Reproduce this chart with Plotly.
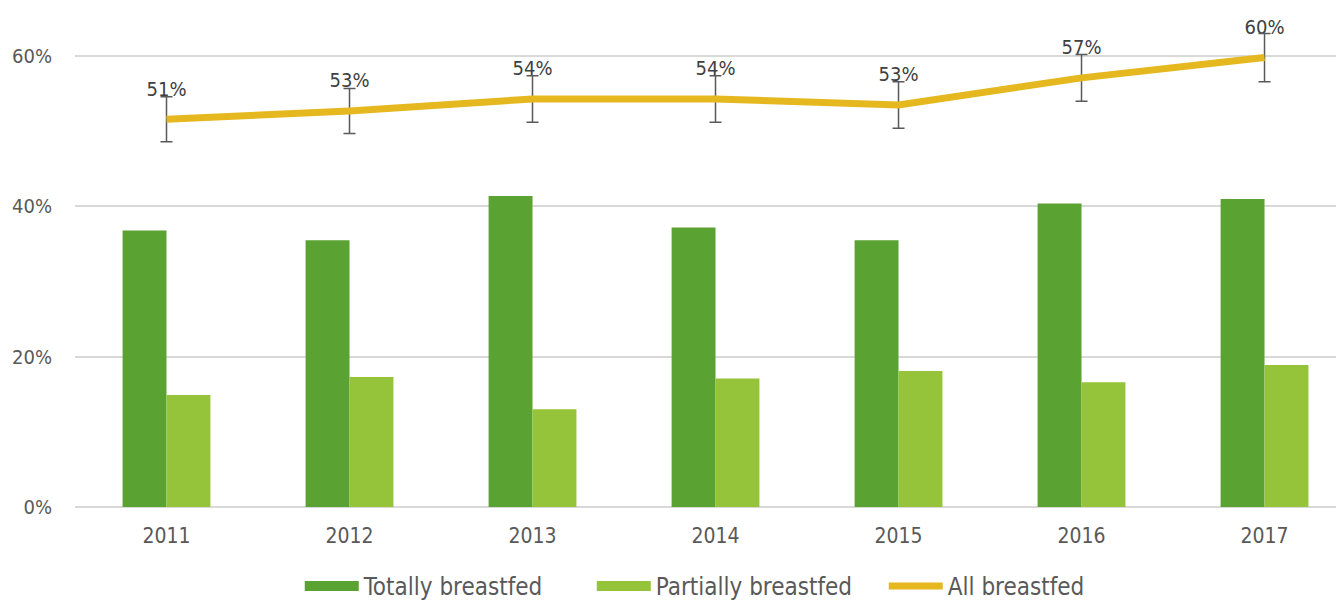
import plotly.graph_objects as go

years = ["2011", "2012", "2013", "2014", "2015", "2016", "2017"]
totally = [36.8, 35.5, 41.4, 37.2, 35.5, 40.4, 41.0]
partially = [14.9, 17.3, 13.0, 17.1, 18.1, 16.6, 18.9]
all_bf = [51.6, 52.7, 54.3, 54.3, 53.5, 57.1, 59.8]
all_labels = ["51%", "53%", "54%", "54%", "53%", "57%", "60%"]
err = [3.0, 3.0, 3.1, 3.1, 3.1, 3.1, 3.2]

FONT = "DejaVu Sans Condensed"
GREY = "#595959"
C_TOT = "#5aa231"
C_PART = "#95c43a"
C_ALL = "#e6b820"

fig = go.Figure()
fig.add_trace(go.Bar(x=years, y=totally, name="Totally breastfed", showlegend=False,
                     marker=dict(color=C_TOT, line=dict(width=0))))
fig.add_trace(go.Bar(x=years, y=partially, name="Partially breastfed", showlegend=False,
                     marker=dict(color=C_PART, line=dict(width=0))))
# data labels above the line points (invisible markers push text upward)
fig.add_trace(go.Scatter(x=years, y=all_bf, mode="markers+text", text=all_labels,
                         textposition="top center", showlegend=False, hoverinfo="skip",
                         marker=dict(size=28, opacity=0),
                         textfont=dict(family=FONT, size=20, color="#404040")))
fig.add_trace(go.Scatter(x=years, y=all_bf, name="All breastfed", mode="lines", showlegend=False,
                         line=dict(color=C_ALL, width=7),
                         error_y=dict(type="data", array=err, visible=True,
                                      color=GREY, thickness=1.5, width=6)))

# legend entries (wide rectangle swatches like the original)
for name, col, w in [("Totally breastfed", C_TOT, 14), ("Partially breastfed", C_PART, 14),
                     ("All breastfed", C_ALL, 7)]:
    fig.add_trace(go.Scatter(x=[None], y=[None], mode="lines", name=name,
                             line=dict(color=col, width=w), showlegend=True))

fig.update_layout(
    width=1344, height=601,
    margin=dict(l=67, r=0, t=0, b=101),
    paper_bgcolor="white", plot_bgcolor="white",
    barmode="group", bargap=0.52, bargroupgap=0,
    font=dict(family=FONT, size=20, color=GREY),
    showlegend=True,
    legend=dict(orientation="h", x=0.519, xanchor="center", y=-0.16, yanchor="middle",
                font=dict(family=FONT, size=24, color=GREY),
                itemwidth=54, entrywidth=223, entrywidthmode="pixels",
                traceorder="normal"),
)
fig.update_xaxes(type="category", range=[-0.5, 6.478], showgrid=False, showline=False,
                 ticks="", ticklabelstandoff=14, tickfont=dict(size=21))
fig.update_yaxes(range=[0, 66.4], tickvals=[0, 20, 40, 60], ticktext=["0%", "20%", "40%", "60%"],
                 showgrid=True, gridcolor="#d9d9d9", gridwidth=1.5,
                 zeroline=True, zerolinecolor="#d9d9d9", zerolinewidth=1.5,
                 showline=False, ticks="", ticklabelstandoff=22)

fig.write_html("out.html")
